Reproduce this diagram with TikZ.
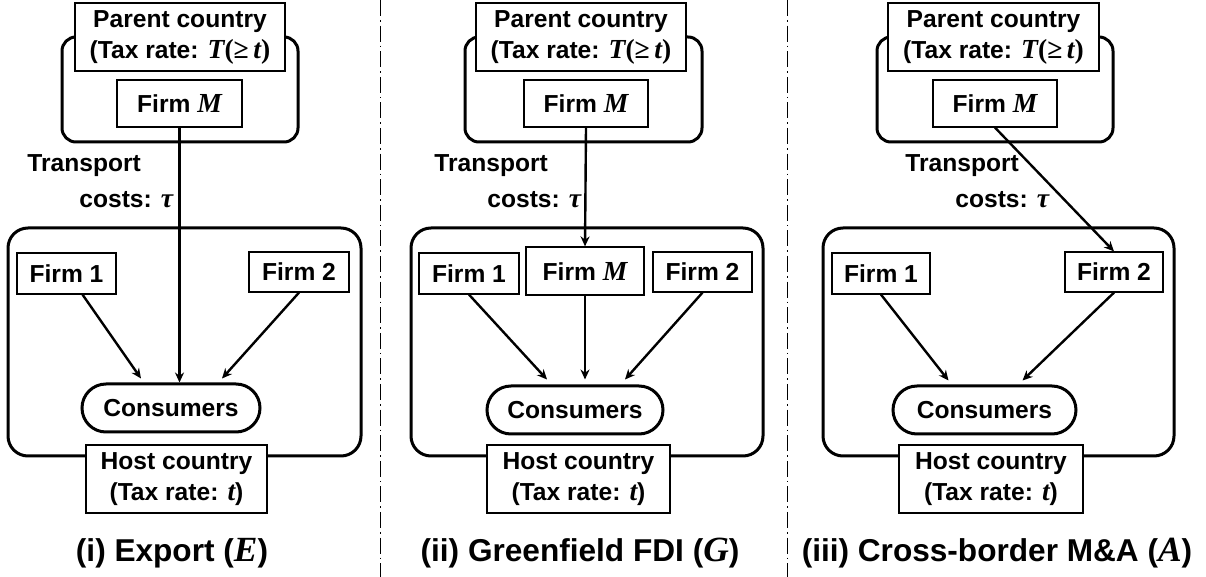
\documentclass[tikz,border=0pt]{standalone}
\usepackage{fontspec}
\setsansfont{Liberation Sans}
\newfontfamily\mathlet{Liberation Serif}[Scale=1.12]
\usetikzlibrary{arrows.meta}

\newcommand{\boxfont}{\fontsize{12.3}{15.5}\selectfont\sffamily\bfseries}
\newcommand{\capfont}{\fontsize{15.8}{18}\selectfont\sffamily\bfseries}
\newcommand{\mv}[1]{{\mathlet\bfseries\itshape #1}}
\newcommand{\ptax}{(Tax rate: \mv{T}{\mathlet(≥\,}\mv{t}{\mathlet)}}
\newcommand{\htax}{(Tax rate: \mv{t})}

\begin{document}
\begin{tikzpicture}[
    x=0.5pt, y=-0.5pt,
    box/.style={rectangle, draw=black, line width=0.6pt, fill=white,
                inner sep=0pt, align=center, font=\boxfont},
    region/.style={rectangle, draw=black, line width=1.5pt, inner sep=0pt},
    pill/.style={rectangle, draw=black, line width=1.5pt, rounded corners=12pt,
                 minimum height=24pt, inner sep=0pt, font=\boxfont},
    note/.style={anchor=west, inner sep=0pt, font=\boxfont},
    panelname/.style={inner sep=0pt, font=\capfont},
    sep/.style={line width=0.5pt, dash pattern=on 8pt off 2pt on 0.8pt off 2pt},
    arr/.style={-{Stealth[length=5pt, width=4.5pt]}, line width=1.2pt, draw=black}
]
    \useasboundingbox (0,0) rectangle (1206,577);

    % (i) export
    \node[region, rounded corners=7pt, minimum width=118pt, minimum height=52.5pt] (parA) at (180,89.5) {};
    \node[region, rounded corners=10pt, minimum width=176.5pt, minimum height=114pt] (hostA) at (184.5,342) {};
    \node[box, minimum width=105pt, minimum height=34pt] (pcA) at (180,37) {Parent country\\\ptax};
    \node[box, minimum width=62.5pt, minimum height=23.5pt] (fmA) at (179.5,103.5) {Firm \mv{M}};
    \node[box, minimum width=49.5pt, minimum height=20.5pt] (f1A) at (66.5,273.5) {Firm 1};
    \node[box, minimum width=50pt, minimum height=20pt] (f2A) at (299,272) {Firm 2};
    \node[pill, minimum width=89pt] (consA) at (171,408) {Consumers};
    \node[box, minimum width=90.5pt, minimum height=34pt] (hcA) at (176.5,479) {Host country\\\htax};
    \node[note] (trA) at (27,166) {Transport};
    \node[note] (coA) at (79,200) {costs: \mv{τ}};
    \node[panelname] (capA) at (172,553) {(i) Export (\mv{E})};

    \draw[arr] (fmA.south) -- (fmA.south |- consA.north);
    \draw[arr] ([xshift=8pt]f1A.south) -- ([xshift=-15pt, yshift=2pt]consA.north);
    \draw[arr] (f2A.south) -- ([xshift=25.5pt, yshift=2pt]consA.north);

    % (ii) greenfield FDI
    \node[region, rounded corners=7pt, minimum width=118.5pt, minimum height=52.5pt] (parB) at (583.5,89.5) {};
    \node[region, rounded corners=10pt, minimum width=176pt, minimum height=114pt] (hostB) at (587,342) {};
    \node[box, minimum width=105pt, minimum height=34pt] (pcB) at (581,37) {Parent country\\\ptax};
    \node[box, minimum width=62pt, minimum height=23.5pt] (fmB) at (586,103.5) {Firm \mv{M}};
    \node[box, minimum width=50pt, minimum height=20.5pt] (f1B) at (469,273.5) {Firm 1};
    \node[box, minimum width=59pt, minimum height=24pt] (fmhB) at (585,271) {Firm \mv{M}};
    \node[box, minimum width=49.5pt, minimum height=20pt] (f2B) at (702.5,272) {Firm 2};
    \node[pill, minimum width=88pt] (consB) at (575,410) {Consumers};
    \node[box, minimum width=91.5pt, minimum height=34pt] (hcB) at (578.5,479) {Host country\\\htax};
    \node[note] (trB) at (434,166) {Transport};
    \node[note] (coB) at (487,200) {costs: \mv{τ}};
    \node[panelname] (capB) at (580,553) {(ii) Greenfield FDI (\mv{G})};

    \draw[arr] (fmB.south) -- (fmhB.north);
    \draw[arr] (f1B.south) -- ([xshift=-14pt, yshift=2.5pt]consB.north);
    \draw[arr] (fmhB.south) -- ([yshift=2.5pt]fmhB.south |- consB.north);
    \draw[arr] (f2B.south) -- ([xshift=25pt, yshift=2.5pt]consB.north);

    % (iii) cross-border M&A
    \node[region, rounded corners=7pt, minimum width=118pt, minimum height=52.5pt] (parC) at (995,89.5) {};
    \node[region, rounded corners=10pt, minimum width=175.5pt, minimum height=114pt] (hostC) at (998.5,342) {};
    \node[box, minimum width=105.5pt, minimum height=34pt] (pcC) at (993.5,37) {Parent country\\\ptax};
    \node[box, minimum width=62pt, minimum height=23.5pt] (fmC) at (995,103.5) {Firm \mv{M}};
    \node[box, minimum width=49pt, minimum height=20.5pt] (f1C) at (881,273.5) {Firm 1};
    \node[box, minimum width=49pt, minimum height=20pt] (f2C) at (1114,272) {Firm 2};
    \node[pill, minimum width=91.5pt] (consC) at (984.5,410) {Consumers};
    \node[box, minimum width=92pt, minimum height=34pt] (hcC) at (991,479) {Host country\\\htax};
    \node[note] (trC) at (905,166) {Transport};
    \node[note] (coC) at (955,200) {costs: \mv{τ}};
    \node[panelname] (capC) at (997,553) {(iii) Cross-border M\&A (\mv{A})};

    \draw[arr] (fmC.south) -- (f2C.north);
    \draw[arr] (f1C.south) -- ([xshift=-18pt, yshift=2pt]consC.north);
    \draw[arr] (f2C.south) -- ([xshift=19pt, yshift=2pt]consC.north);

    % separators
    \coordinate (s1t) at (380,0);
    \coordinate (s1b) at (380,577);
    \coordinate (s2t) at (787,0);
    \coordinate (s2b) at (787,577);
    \draw[sep] (s1t) -- (s1b);
    \draw[sep] (s2t) -- (s2b);
\end{tikzpicture}
\end{document}
